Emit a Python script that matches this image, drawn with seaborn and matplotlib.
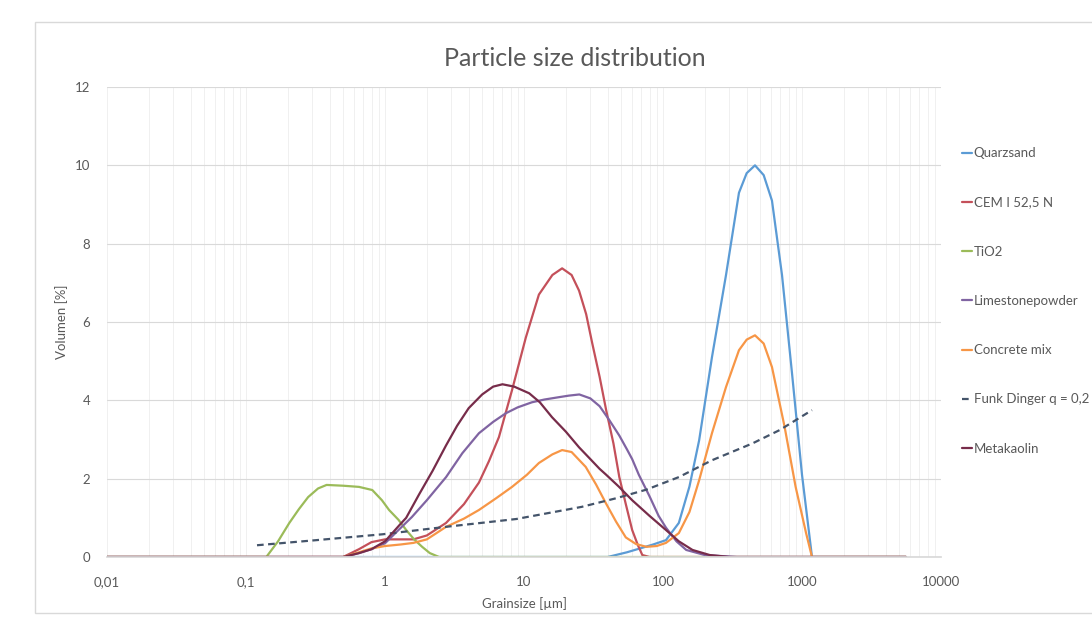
import numpy as np
import pandas as pd
import seaborn as sns
import matplotlib.pyplot as plt
import matplotlib.patches as mpatches
from matplotlib.ticker import FixedLocator, LogLocator, NullFormatter


TITLE = "Particle size distribution"
X_LABEL = "Grainsize [µm]"
Y_LABEL = "Volumen [%]"

XTICKS = [0.01, 0.1, 1, 10, 100, 1000, 10000]
XTICK_LABELS = ["0,01", "0,1", "1", "10", "100", "1000", "10000"]
YTICKS = [0, 2, 4, 6, 8, 10, 12]

QUARZ_X = [0.01, 40, 55, 70, 85, 105, 130, 155, 182, 225, 284, 352, 400, 459,
           530, 608, 718, 847, 1000, 1180, 5600]
QUARZ_Y = [0, 0, 0.12, 0.23, 0.32, 0.43, 0.87, 1.8, 2.98, 5.1, 7.2, 9.3, 9.8, 10.0,
           9.75, 9.1, 7.2, 4.7, 2.1, 0, 0]

CEM_X = [0.01, 0.5, 0.65, 0.8, 1.0, 1.3, 1.6, 2.0, 2.75, 3.7, 4.74, 5.6, 6.6, 8.2,
         10.3, 12.8, 16, 18.8, 22, 24.9, 28, 31, 35, 39, 44, 48.5, 54, 60, 66, 71,
         80, 5600]
CEM_Y = [0, 0, 0.2, 0.38, 0.45, 0.45, 0.45, 0.55, 0.87, 1.35, 1.9, 2.45, 3.06, 4.26,
         5.6, 6.7, 7.2, 7.37, 7.2, 6.8, 6.2, 5.45, 4.6, 3.75, 2.9, 2.04, 1.35, 0.69,
         0.3, 0.05, 0, 0]

TIO2_X = [0.01, 0.14, 0.17, 0.205, 0.24, 0.28, 0.33, 0.38, 0.5, 0.65, 0.81, 0.95,
          1.07, 1.25, 1.42, 1.62, 1.85, 2.1, 2.45, 5600]
TIO2_Y = [0, 0, 0.4, 0.87, 1.22, 1.53, 1.75, 1.84, 1.82, 1.79, 1.71, 1.45,
          1.2, 0.95, 0.69, 0.45, 0.26, 0.1, 0, 0]

LIME_X = [0.01, 0.5, 0.65, 0.8, 1.0, 1.26, 1.56, 2.0, 2.75, 3.6, 4.74, 6.0, 7.4,
          9.0, 11.4, 14, 17.8, 21, 25, 30, 35, 41, 48.5, 55, 60, 67, 80, 93, 105,
          125, 147, 200, 340, 5600]
LIME_Y = [0, 0, 0.1, 0.2, 0.35, 0.7, 1.02, 1.45, 2.04, 2.65, 3.16, 3.45, 3.67,
          3.82, 3.95, 4.02, 4.08, 4.12, 4.15, 4.05, 3.85, 3.5, 3.1, 2.75, 2.5, 2.1,
          1.55, 1.05, 0.75, 0.4, 0.18, 0.05, 0, 0]

CONCRETE_X = [0.01, 0.5, 0.65, 0.8, 1.0, 1.3, 1.6, 2.0, 2.75, 3.7, 4.74, 6.3, 8.2,
              10.5, 12.8, 16, 18.8, 22, 27.8, 33, 39, 46, 54, 64, 76, 90, 105, 130,
              155, 182, 225, 284, 352, 400, 459, 530, 608, 750, 900, 1070, 1180, 5600]
CONCRETE_Y = [0, 0, 0.12, 0.22, 0.28, 0.32, 0.36, 0.45, 0.77, 0.98, 1.2, 1.5, 1.79,
              2.1, 2.4, 2.62, 2.73, 2.68, 2.3, 1.85, 1.36, 0.9, 0.5, 0.33, 0.26, 0.28,
              0.36, 0.61, 1.15, 1.96, 3.16, 4.34, 5.28, 5.55, 5.66, 5.45, 4.85, 3.32,
              1.79, 0.61, 0, 0]

FUNK_X = [0.12, 0.32, 0.96, 2.9, 8.8, 26, 46, 76, 130, 225, 440, 690, 1180]
FUNK_Y = [0.3, 0.43, 0.58, 0.78, 0.97, 1.28, 1.5, 1.72, 2.04, 2.47, 2.9, 3.24, 3.75]

META_X = [0.01, 0.5, 0.65, 0.8, 1.0, 1.26, 1.42, 1.76, 2.2, 2.75, 3.3, 4.0, 5.0,
          6.0, 7.0, 8.5, 10.9, 13, 15.9, 20, 24.9, 30, 35, 39, 48, 60, 80, 105, 130,
          163, 217, 300, 5600]
META_Y = [0, 0, 0.1, 0.2, 0.4, 0.8, 1.0, 1.6, 2.2, 2.85, 3.35, 3.8, 4.15,
          4.35, 4.41, 4.35, 4.18, 3.95, 3.57, 3.2, 2.8, 2.5, 2.25, 2.1, 1.8, 1.45,
          1.05, 0.69, 0.4, 0.18, 0.05, 0, 0]

SERIES = [
    ("Quarzsand", QUARZ_X, QUARZ_Y, "#5B9BD5", "-"),
    ("CEM I 52,5 N", CEM_X, CEM_Y, "#C4505A", "-"),
    ("TiO2", TIO2_X, TIO2_Y, "#9BBB59", "-"),
    ("Limestonepowder", LIME_X, LIME_Y, "#8064A2", "-"),
    ("Concrete mix", CONCRETE_X, CONCRETE_Y, "#F79646", "-"),
    ("Funk Dinger q = 0,2", FUNK_X, FUNK_Y, "#44546A", "--"),
    ("Metakaolin", META_X, META_Y, "#772C4A", "-"),
]

TEXT_GREY = "#595959"
GRID_GREY = "#D9D9D9"
SMALL = 9.5


def main():
    sns.set_theme(style="white")
    plt.rcParams.update({
        "font.family": ["Lato", "DejaVu Sans"],
    })

    fig = plt.figure(figsize=(10.92, 6.23), dpi=100)
    ax = fig.add_axes([107 / 1092, 1 - 557 / 623, 834 / 1092, 470 / 623])

    # outer chart frame (right edge runs off the picture)
    fig.patches.append(mpatches.Rectangle(
        (35 / 1092, 1 - 613 / 623), 1.2, 591 / 623,
        transform=fig.transFigure, facecolor="white", edgecolor=GRID_GREY,
        linewidth=1.0, zorder=-10))

    handles = []
    for name, xs, ys, col, ls in SERIES:
        df = pd.DataFrame({"size": xs, "vol": ys})
        sns.lineplot(data=df, x="size", y="vol", ax=ax, color=col,
                     linewidth=1.6, estimator=None, sort=False, legend=False)
        line = ax.lines[-1]
        if ls == "--":
            line.set_dashes((3.0, 2.0))
        line.set_solid_joinstyle("round")
        handles.append(line)

    ax.set_xscale("log")
    ax.set_xlim(0.01, 10000)
    ax.set_ylim(0, 12)
    ax.xaxis.set_major_locator(FixedLocator(XTICKS))
    ax.set_xticklabels(XTICK_LABELS)
    ax.xaxis.set_minor_locator(LogLocator(base=10, subs=np.arange(2, 10)))
    ax.xaxis.set_minor_formatter(NullFormatter())
    ax.set_yticks(YTICKS)
    ax.set_yticklabels([str(v) for v in YTICKS])
    ax.tick_params(axis="both", which="both", length=0, labelsize=SMALL,
                   labelcolor=TEXT_GREY)
    ax.tick_params(axis="x", pad=14)
    ax.tick_params(axis="y", pad=12)

    ax.grid(axis="y", which="major", color=GRID_GREY, linewidth=0.8)
    ax.grid(axis="x", which="both", color="#F0F0F0", linewidth=0.7)
    ax.set_axisbelow(True)
    for side in ("left", "right", "top"):
        ax.spines[side].set_visible(False)
    ax.spines["bottom"].set_color(GRID_GREY)
    ax.set_facecolor("none")

    ax.set_xlabel(X_LABEL, fontsize=SMALL, color=TEXT_GREY)
    ax.set_ylabel(Y_LABEL, fontsize=SMALL, color=TEXT_GREY)
    ax.xaxis.set_label_coords(0.5, -40 / 470)
    ax.yaxis.set_label_coords(-39 / 834, 0.5)

    fig.text(575 / 1092, 1 - 59 / 623, TITLE, ha="center", va="center",
             fontsize=18, color=TEXT_GREY)

    fig.legend(handles=handles, labels=[s[0] for s in SERIES],
               loc="center left", bbox_to_anchor=(962 / 1092, 1 - 301 / 623),
               frameon=False, fontsize=SMALL, labelcolor=TEXT_GREY,
               labelspacing=2.82, handlelength=0.75, handletextpad=0.15,
               borderaxespad=0, borderpad=0)

    fig.savefig("out.png", dpi=100, facecolor="white")


if __name__ == "__main__":
    main()
